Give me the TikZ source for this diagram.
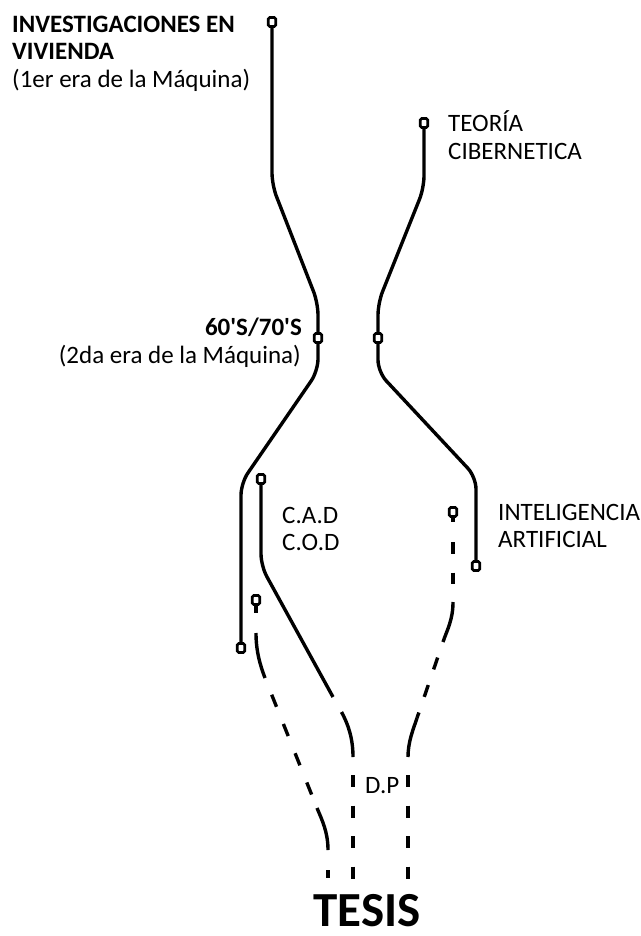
\documentclass[tikz,border=0pt]{standalone}
\usepackage{fontspec}
\setmainfont{Carlito}
\pgfdeclarelayer{bg}
\pgfsetlayers{bg,main}
\tikzset{
  wire/.style={line width=3.4pt, line cap=butt, line join=round},
  bentwire/.style={wire, rounded corners=12pt},
  term/.style={draw, line width=2.8pt, fill=white, rectangle, rounded corners=1.5pt,
    minimum width=7.5pt, minimum height=9pt, inner sep=0pt},
  lbl/.style={inner sep=0pt, font=\fontsize{25}{28}\selectfont},
  lblb/.style={inner sep=0pt, font=\fontsize{25}{28}\selectfont\bfseries},
  dashv/.style={wire, dash pattern=on 12pt off 18.5pt},
}
\begin{document}
\begin{tikzpicture}[x=1pt,y=-1pt]
\useasboundingbox (0,0) rectangle (640,936);

% terminals
\node[term] (tA1) at (272,22) {};
\node[term] (tA2) at (318,338) {};
\node[term] (tA3) at (241,648) {};
\node[term] (tB1) at (424,123) {};
\node[term] (tB2) at (378,338) {};
\node[term] (tB3) at (476,566) {};
\node[term] (tC1) at (261,479) {};
\node[term] (tD1) at (256,600) {};
\node[term] (tE1) at (453,512) {};

% free ends
\coordinate (cEnd) at (353,757);
\coordinate (eEnd) at (408,757);
\coordinate (dEnd) at (328,850);

\begin{pgfonlayer}{bg}
\fill[white] (0,0) rectangle (640,936);
% Investigaciones line
\draw[bentwire] (tA1.center) -- (272,185) -- (318,303) -- (tA2.center) -- (318,371) -- (241,483) -- (tA3.center);
% Teoria line
\draw[bentwire] (tB1.center) -- (424,188) -- (378,303) -- (tB2.center) -- (378,372) -- (476,477) -- (tB3.center);
% CAD line
\draw[bentwire] (tC1.center) -- (261,566) -- (333,697);
\draw[wire] (341.5,712) .. controls (348,724) and (353,738) .. (cEnd);
\draw[dashv] (353,775) -- (353,879);
% third line
\draw[wire] (tD1.center) -- (256,613);
\draw[wire] (256,633) .. controls (256,652) and (260.5,666) .. (265,678);
\draw[wire, dash pattern=on 13pt off 18.5pt, dash phase=13.5pt] (265,678) -- (317,808);
\draw[wire] (317,808) .. controls (322,820) and (328,832) .. (dEnd);
\draw[wire] (328,870) -- (328,878);
% inteligencia line
\draw[wire] (tE1.center) -- (453,522);
\draw[dashv] (453,542) -- (453,584);
\draw[wire] (453,602) .. controls (453,620) and (447,630) .. (443,642);
\draw[wire, dash pattern=on 12.5pt off 16.5pt, dash phase=12.5pt] (443,642) -- (417,718);
\draw[wire] (417,718) .. controls (413,730) and (408,742) .. (eEnd);
\draw[dashv] (408,775) -- (408,879);
\end{pgfonlayer}

% labels
\node[lblb, anchor=base west] (l1) at (12,33) {INVESTIGACIONES EN};
\node[lblb, anchor=base west] (l2) at (12,60) {VIVIENDA};
\node[lbl, anchor=base west] (l3) at (12,88) {(1er era de la Máquina)};
\node[lbl, anchor=base west] (l4) at (448,132) {TEORÍA};
\node[lbl, anchor=base west] (l5) at (448,160) {CIBERNETICA};
\node[lblb, anchor=base east] (l6) at (302,335) {60\textquotesingle S/70\textquotesingle S};
\node[lbl, anchor=base east] (l7) at (301,363) {(2da era de la Máquina)};
\node[lbl, anchor=base west] (l8) at (282,523) {C.A.D};
\node[lbl, anchor=base west] (l9) at (282,550) {C.O.D};
\node[lbl, anchor=base west] (l10) at (498,520) {INTELIGENCIA};
\node[lbl, anchor=base west] (l11) at (498,547) {ARTIFICIAL};
\node[lbl, anchor=base west] (l12) at (365,793) {D.P};
\node[inner sep=0pt, anchor=base, font=\fontsize{49}{56}\selectfont\bfseries] (tesis) at (367,926) {TESIS};
\end{tikzpicture}
\end{document}
